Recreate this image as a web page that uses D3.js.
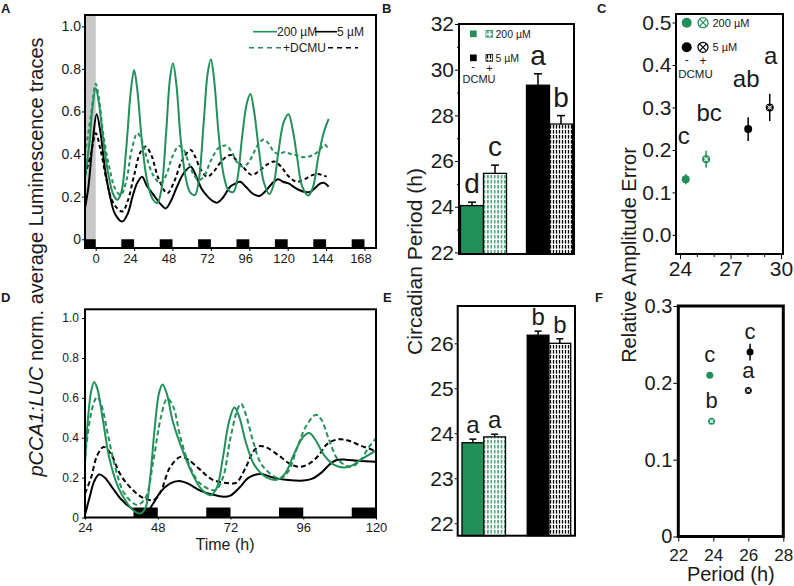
<!DOCTYPE html>
<html><head><meta charset="utf-8">
<script src="https://cdn.jsdelivr.net/npm/d3@7"></script>
<style>body{margin:0;background:#fff} text{font-family:"Liberation Sans",Arial,sans-serif;fill:#1a1a1a}</style>
</head><body><svg id="c" width="794" height="586" xmlns="http://www.w3.org/2000/svg"></svg>
<script>
// ---------- DATA ----------
// Panel A traces: [hour, normalized luminescence]
const A_200 = [[-6.7,0.29],[-4,0.45],[-2,0.62],[0,0.71],[2,0.64],[5,0.45],[8,0.3],[11,0.21],[13.5,0.185],[16,0.22],[19,0.42],[22,0.7],[24,0.795],[26,0.7],[29,0.45],[32,0.28],[35.5,0.19],[38.5,0.17],[41,0.23],[44,0.5],[46.5,0.76],[48.3,0.826],[50.5,0.72],[53,0.48],[56,0.3],[59,0.22],[62,0.208],[64.5,0.28],[67.5,0.55],[70,0.78],[72,0.845],[74,0.75],[77,0.48],[80,0.3],[83,0.23],[86,0.222],[88.5,0.28],[91.5,0.48],[94.5,0.64],[96.7,0.682],[99,0.6],[102,0.42],[105,0.27],[108.5,0.212],[111,0.25],[114,0.4],[117.5,0.55],[120.5,0.587],[123,0.52],[126,0.38],[129,0.25],[133,0.205],[136,0.25],[139,0.38],[142.5,0.5],[145.6,0.565]];
const A_200D = [[-6.7,0.4],[-3,0.58],[0,0.73],[2,0.66],[5,0.48],[9,0.32],[12,0.24],[15.6,0.208],[19,0.27],[22.5,0.42],[26,0.498],[29,0.46],[32,0.38],[36,0.3],[40.6,0.263],[44,0.3],[48,0.39],[52,0.438],[55,0.42],[58.5,0.35],[61.5,0.3],[64.6,0.278],[68,0.3],[72,0.37],[77,0.43],[81.5,0.44],[85,0.41],[88.5,0.36],[92,0.34],[95.5,0.36],[99,0.41],[102,0.45],[105,0.468],[108,0.45],[111,0.415],[114,0.4],[118.3,0.41],[122,0.4],[125.6,0.395],[130,0.385],[134,0.39],[137.7,0.404],[141,0.43],[143,0.445],[145,0.43]];
const A_5 = [[-6.7,0.146],[-4.5,0.25],[-2,0.45],[0.6,0.587],[3,0.5],[6,0.32],[9,0.2],[12,0.12],[16.6,0.083],[20,0.12],[23,0.2],[26,0.265],[29,0.294],[32,0.25],[36,0.21],[40,0.17],[43.75,0.145],[47,0.18],[51,0.25],[55,0.31],[59.4,0.341],[62.5,0.3],[66,0.24],[70,0.2],[73,0.18],[76,0.172],[80,0.2],[84,0.247],[87,0.26],[90.2,0.27],[94,0.245],[98,0.215],[102,0.203],[106,0.225],[110,0.26],[114,0.282],[117,0.27],[120.5,0.262],[124,0.245],[127.5,0.23],[131,0.222],[134,0.222],[137,0.24],[140,0.26],[142.5,0.265],[145.6,0.247]];
const A_5D = [[-6.7,0.3],[-3,0.4],[0,0.498],[3,0.42],[7,0.27],[11,0.17],[16.6,0.13],[20,0.18],[24,0.3],[28,0.41],[31.25,0.435],[35,0.39],[39,0.29],[44.75,0.216],[49,0.27],[54,0.37],[59.4,0.419],[62,0.39],[65.5,0.33],[69.75,0.294],[74,0.32],[79,0.37],[84.4,0.396],[88,0.37],[92,0.34],[97.5,0.302],[102,0.32],[107,0.35],[111.5,0.365],[116,0.34],[120,0.3],[125.6,0.27],[130,0.28],[135,0.3],[139,0.307],[142,0.3],[144.4,0.294]];
// Panel D traces
const D_200 = [[24,0.27],[25,0.5],[26,0.63],[27,0.68],[28,0.65],[30,0.48],[32,0.3],[35,0.15],[38,0.07],[40,0.035],[42.3,0.02],[44,0.05],[45.5,0.2],[47,0.45],[48.5,0.63],[49.6,0.667],[51,0.62],[53,0.48],[56.6,0.32],[59.9,0.204],[62.5,0.14],[65.5,0.112],[67.5,0.15],[69.5,0.3],[71.5,0.48],[73.3,0.551],[75,0.5],[77,0.38],[80,0.26],[84,0.2],[87.5,0.19],[90,0.22],[93,0.32],[96,0.405],[98,0.424],[100,0.39],[103,0.31],[106,0.265],[109.5,0.251],[112,0.26],[115,0.29],[119.9,0.335]];
const D_200D = [[24,0.3],[25.5,0.48],[27,0.58],[28,0.604],[29.5,0.56],[31.5,0.42],[34,0.25],[37,0.12],[41.2,0.0625],[44,0.1],[46.5,0.28],[49,0.5],[51.1,0.596],[53,0.56],[55.5,0.4],[58.5,0.26],[62,0.17],[67,0.1375],[69.5,0.2],[72,0.4],[74.5,0.55],[75.5,0.57],[77,0.52],[79.5,0.38],[82.5,0.26],[88.1,0.196],[91,0.23],[94,0.35],[97,0.46],[100.2,0.515],[102,0.49],[104.5,0.39],[107.5,0.29],[111.7,0.254],[115,0.29],[117.5,0.35],[119.9,0.395]];
const D_5 = [[24,0.0125],[25.5,0.1],[27,0.18],[28.6,0.216],[30.5,0.2],[33,0.15],[36,0.09],[39,0.05],[42,0.03],[44.5,0.03],[46.5,0.07],[49,0.13],[52,0.17],[55,0.183],[58,0.17],[62,0.135],[66,0.115],[69.7,0.104],[72,0.11],[75,0.15],[78,0.2],[82,0.218],[86,0.2],[91,0.188],[96,0.185],[99,0.195],[102,0.225],[105,0.27],[107,0.288],[110,0.29],[114,0.284],[119.9,0.28]];
const D_5D = [[24,0.12],[26,0.2],[28,0.31],[30.2,0.354],[32.5,0.32],[35.5,0.22],[39,0.15],[43,0.1],[46.7,0.0875],[49,0.13],[52,0.25],[55.5,0.304],[58,0.29],[62,0.24],[66,0.19],[71.9,0.171],[74,0.175],[77,0.25],[79.5,0.33],[81.5,0.358],[84,0.35],[88,0.31],[91.5,0.27],[94.7,0.254],[98,0.27],[101,0.31],[104,0.37],[107.8,0.3925],[111,0.385],[115,0.36],[119.9,0.334]];
const darkStartsA = [-8,16,40,64,88,112,136,160];
const darkStartsD = [40,64,88,112];
const darkLen = 8;
const ticksA_x = [0,24,48,72,96,120,144,168];
const ticksD_x = [24,48,72,96,120];
const ticksLum = [0,0.2,0.4,0.6,0.8,1.0];
// Panels B, E (period) and C, F (amplitude error) — order: 200 µM -, 200 µM +, 5 µM -, 5 µM +
const groups = ["200 µM","5 µM"];
const treat = ["-","+"];
const periodB = [24.05,25.46,29.32,27.62];
const errB = [0.15,0.36,0.5,0.37];
const lettersB = ["d","c","a","b"];
const periodE = [23.79,23.92,26.18,26.0];
const errE = [0.08,0.06,0.09,0.1];
const lettersE = ["a","a","b","b"];
const periodC = [24.34,25.55,28.05,29.33];
const ampC = [0.131,0.178,0.249,0.30];
const errC = [0.012,0.02,0.028,0.032];
const lettersC = ["c","bc","ab","a"];
const periodF = [23.8,23.9,26.1,26.0];
const ampF = [0.21,0.15,0.24,0.19];
const errF = [0.003,0.003,0.011,0.004];
const lettersF = ["c","b","c","a"];

// ---------- DRAW ----------
const GREEN = "#22905a";
const svg = d3.select("#c");
const defs = svg.append("defs");
function hatch(id,color,w){
  const p = defs.append("pattern").attr("id",id).attr("patternUnits","userSpaceOnUse").attr("width",w).attr("height",5);
  p.append("rect").attr("width",w).attr("height",5).attr("fill","#fff");
  p.append("line").attr("x1",w/2).attr("x2",w/2).attr("y1",0).attr("y2",3.6).attr("stroke",color).attr("stroke-width",1.3);
}
hatch("hg",GREEN,3.4); hatch("hk","#000",3.0);
const isG = i => i<2;
const isPlus = i => i%2===1;
const rows = (vals,errs,lets)=>groups.flatMap((g,i)=>treat.map((t,j)=>({g,t,i:i*2+j,v:vals[i*2+j],e:errs[i*2+j],l:lets[i*2+j]})));

function frame(x0,y0,x1,y1,w){
  svg.append("rect").attr("x",x0).attr("y",y0).attr("width",x1-x0).attr("height",y1-y0)
    .attr("fill","none").attr("stroke","#000").attr("stroke-width",w||2);
}
function styleAxis(g,fs){
  g.select(".domain").remove();
  g.selectAll("text").attr("font-size",fs).attr("fill","#1a1a1a").attr("font-family","'Liberation Sans',Arial,sans-serif");
  g.selectAll("line").attr("stroke","#000");
}
function label(x,y,t,fs,opts){
  const e = svg.append("text").attr("x",x).attr("y",y).attr("font-size",fs).text(t);
  if(opts&&opts.anchor) e.attr("text-anchor",opts.anchor);
  if(opts&&opts.bold) e.attr("font-weight","bold");
  return e;
}
const lumFmt = d=> d===0?"0":d.toFixed(1);

// ----- Panel A -----
const xA = d3.scaleLinear().domain([-6.7,175.2]).range([85,376]);
const yA = d3.scaleLinear().domain([-0.041,1.053]).range([248,15]);
defs.append("clipPath").attr("id","clipA").append("rect").attr("x",85).attr("y",15).attr("width",291).attr("height",233);
const gA = svg.append("g").attr("clip-path","url(#clipA)");
gA.append("rect").attr("x",xA(-6.7)).attr("y",15).attr("width",xA(0)-xA(-6.7)).attr("height",233).attr("fill","#c8c8c8");
gA.selectAll("rect.dk").data(darkStartsA).join("rect").attr("class","dk")
  .attr("x",d=>xA(d)).attr("width",d=>xA(d+darkLen)-xA(d)).attr("y",yA(0)).attr("height",yA(-0.041)-yA(0)).attr("fill","#000");
const lineA = d3.line().x(d=>xA(d[0])).y(d=>yA(d[1])).curve(d3.curveCatmullRom.alpha(0.5));
const tracesA = [[A_5D,"#000",true],[A_5,"#000",false],[A_200D,GREEN,true],[A_200,GREEN,false]];
tracesA.forEach(([d,c,dash])=>gA.append("path").attr("d",lineA(d)).attr("fill","none").attr("stroke",c)
  .attr("stroke-width",2).attr("stroke-dasharray",dash?"4,3":null));
styleAxis(svg.append("g").attr("transform","translate(85,0)").call(d3.axisLeft(yA).tickValues(ticksLum).tickFormat(lumFmt).tickSize(3).tickPadding(1)),14);
const axA = svg.append("g").attr("transform","translate(0,248)").call(d3.axisBottom(xA).tickValues(ticksA_x).tickSize(3).tickPadding(3));
styleAxis(axA,13);
axA.selectAll("text").attr("dx",d=>d===0?0:-4);
frame(85,15,376,248,2);
// legend A
function legLine(x1,x2,y,c,dash){svg.append("line").attr("x1",x1).attr("x2",x2).attr("y1",y).attr("y2",y).attr("stroke",c).attr("stroke-width",1.6).attr("stroke-dasharray",dash?"5,4":null);}
legLine(253,277,31.7,GREEN,false); label(277,35.7,"200 µM",12);
legLine(315,337,31.7,"#000",false); label(337,35.7,"5 µM",12);
legLine(249,282,47.7,GREEN,true); label(283,51.7,"+DCMU",12);
legLine(328,358,47.7,"#000",true);

// ----- Panel D -----
const xD = d3.scaleLinear().domain([24,120]).range([85,376]);
const yD = d3.scaleLinear().domain([0,1.044]).range([517.5,309.3]);
defs.append("clipPath").attr("id","clipD").append("rect").attr("x",85).attr("y",309.3).attr("width",291).attr("height",208.2);
const gD = svg.append("g").attr("clip-path","url(#clipD)");
gD.selectAll("rect.dk").data(darkStartsD).join("rect").attr("class","dk")
  .attr("x",d=>xD(d)).attr("width",d=>xD(d+darkLen)-xD(d)).attr("y",yD(0.05)).attr("height",yD(0)-yD(0.05)).attr("fill","#000");
const lineD = d3.line().x(d=>xD(d[0])).y(d=>yD(d[1])).curve(d3.curveCatmullRom.alpha(0.5));
const tracesD = [[D_5D,"#000",true],[D_5,"#000",false],[D_200D,GREEN,true],[D_200,GREEN,false]];
tracesD.forEach(([d,c,dash])=>gD.append("path").attr("d",lineD(d)).attr("fill","none").attr("stroke",c)
  .attr("stroke-width",2).attr("stroke-dasharray",dash?"5,3":null));
styleAxis(svg.append("g").attr("transform","translate(85,0)").call(d3.axisLeft(yD).tickValues(ticksLum).tickFormat(lumFmt).tickSize(3).tickPadding(3)),12);
styleAxis(svg.append("g").attr("transform","translate(0,517.5)").call(d3.axisBottom(xD).tickValues(ticksD_x).tickSize(2).tickPadding(3)),13);
frame(85,309.3,376,517.5,2);
label(225,550,"Time (h)",16,{anchor:"middle"});

// shared y label A/D
const ylA = svg.append("text").attr("transform","translate(43,257) rotate(-90)").attr("text-anchor","middle").attr("font-size",20);
ylA.append("tspan").attr("font-style","italic").text("pCCA1:LUC");
ylA.append("tspan").text(" norm. average Luminescence traces");

// ----- Bar panels -----
function barPanel(o){
  const x = d3.scaleBand().domain(groups).range([o.x0,o.x1]).paddingInner(o.pi).paddingOuter(o.po);
  const xi = d3.scaleBand().domain(treat).range([0,x.bandwidth()]);
  const y = d3.scaleLinear().domain(o.yd).range([o.y1,o.y0]);
  const data = rows(o.vals,o.errs,o.lets);
  const g = svg.append("g");
  const cx = d=>x(d.g)+xi(d.t)+xi.bandwidth()/2;
  g.selectAll("rect.bar").data(data).join("rect").attr("class","bar")
    .attr("x",d=>x(d.g)+xi(d.t)).attr("width",xi.bandwidth()).attr("y",d=>y(d.v)).attr("height",d=>o.y1-y(d.v))
    .attr("fill",d=>isPlus(d.i)?(isG(d.i)?"url(#hg)":"url(#hk)"):(isG(d.i)?GREEN:"#000"))
    .attr("stroke","#000").attr("stroke-width",1.3);
  g.selectAll("line.eb").data(data).join("line").attr("class","eb")
    .attr("x1",cx).attr("x2",cx).attr("y1",d=>y(d.v)).attr("y2",d=>y(d.v+d.e)).attr("stroke","#000").attr("stroke-width",1.5);
  g.selectAll("line.cap").data(data).join("line").attr("class","cap")
    .attr("x1",d=>cx(d)-o.cap).attr("x2",d=>cx(d)+o.cap).attr("y1",d=>y(d.v+d.e)).attr("y2",d=>y(d.v+d.e)).attr("stroke","#000").attr("stroke-width",1.5);
  g.selectAll("text.let").data(data).join("text").attr("class","let")
    .attr("x",cx).attr("y",d=>y(d.v+d.e)-o.gap).attr("text-anchor","middle").attr("font-size",o.lfs).text(d=>d.l);
  const ax = d3.axisLeft(y).tickValues(o.ticks).tickSize(o.ts).tickPadding(o.tp).tickFormat(d3.format("d"));
  styleAxis(svg.append("g").attr("transform",`translate(${o.x0},0)`).call(ax),o.fs);
  if(o.minor){
    styleAxis(svg.append("g").attr("transform",`translate(${o.x0},0)`).call(d3.axisLeft(y).tickValues(o.minor).tickSize(2).tickFormat("")),o.fs);
  }
  frame(o.x0,o.y0,o.x1,o.y1,2);
}
barPanel({x0:459,x1:574,y0:24,y1:254,yd:[21.93,32],pi:0.303,po:0.0227,vals:periodB,errs:errB,lets:lettersB,
  ticks:[22,24,26,28,30,32],minor:[23,25,27,29,31],ts:4,tp:1,fs:21,lfs:28,gap:9,cap:4});
barPanel({x0:457.7,x1:575,y0:306,y1:535.7,yd:[21.724,26.829],pi:0.333,po:0.066,vals:periodE,errs:errE,lets:lettersE,
  ticks:[22,23,24,25,26],ts:3,tp:1,fs:21,lfs:24,gap:6,cap:3.5});
// legend B
svg.append("rect").attr("x",470).attr("y",30.5).attr("width",6.7).attr("height",6.7).attr("fill",GREEN);
svg.append("rect").attr("x",486).attr("y",30.5).attr("width",6.7).attr("height",6.7).attr("fill","url(#hg)").attr("stroke",GREEN).attr("stroke-width",0.8);
label(495.5,37.5,"200 µM",10.5);
svg.append("rect").attr("x",470).attr("y",54.5).attr("width",6.7).attr("height",6.7).attr("fill","#000");
svg.append("rect").attr("x",486).attr("y",54.5).attr("width",6.7).attr("height",6.7).attr("fill","url(#hk)").attr("stroke","#000").attr("stroke-width",0.8);
label(495.5,61.5,"5 µM",10.5);
label(473,70,"-",11,{anchor:"middle"}); label(489.5,71.5,"+",11,{anchor:"middle"});
label(479,82.5,"DCMU",11,{anchor:"middle"});
svg.append("text").attr("transform","translate(422,261.5) rotate(-90)").attr("text-anchor","middle").attr("font-size",21).text("Circadian Period (h)");

// ----- Scatter panels -----
function marker(g,cx,cy,i,r){
  const c = isG(i)?GREEN:"#000";
  g.append("circle").attr("cx",cx).attr("cy",cy).attr("r",r).attr("fill",c);
  if(!isPlus(i)) return;
  const k=r*0.55;
  g.append("path").attr("d",`M${cx-k},${cy-k}L${cx+k},${cy+k}M${cx-k},${cy+k}L${cx+k},${cy-k}`).attr("stroke","#fff").attr("stroke-width",1);
  g.append("circle").attr("cx",cx).attr("cy",cy).attr("r",r*0.35).attr("fill","none").attr("stroke","#fff").attr("stroke-width",0.7);
}
function legMarker(cx,cy,i,r){
  const c = isG(i)?GREEN:"#000";
  if(!isPlus(i)){ svg.append("circle").attr("cx",cx).attr("cy",cy).attr("r",r).attr("fill",c); return; }
  svg.append("circle").attr("cx",cx).attr("cy",cy).attr("r",r).attr("fill","#fff").attr("stroke",c).attr("stroke-width",1.3);
  const k=r*0.7;
  svg.append("path").attr("d",`M${cx-k},${cy-k}L${cx+k},${cy+k}M${cx-k},${cy+k}L${cx+k},${cy-k}`).attr("stroke",c).attr("stroke-width",1.2);
}
function scatterPanel(o){
  const x = d3.scaleLinear().domain(o.xd).range([o.x0,o.x1]);
  const y = d3.scaleLinear().domain(o.yd).range([o.y1,o.y0]);
  const g = svg.append("g");
  o.px.forEach((p,i)=>{
    g.append("line").attr("x1",x(p)).attr("x2",x(p)).attr("y1",y(o.py[i]-o.pe[i])).attr("y2",y(o.py[i]+o.pe[i])).attr("stroke",isG(i)?GREEN:"#000").attr("stroke-width",1.5);
    marker(g,x(p),y(o.py[i]),i,o.r);
    g.append("text").attr("x",x(p)+(o.ldx?o.ldx[i]:0)).attr("y",(o.labelFromErr?y(o.py[i]+o.pe[i]):y(o.py[i]))-o.gap)
      .attr("text-anchor","middle").attr("font-size",o.lfs).text(o.lets[i]);
  });
  styleAxis(svg.append("g").attr("transform",`translate(${o.x0},0)`).call(d3.axisLeft(y).tickValues(o.yt).tickFormat(o.yf).tickSize(o.yts).tickPadding(o.ytp)),o.fs);
  styleAxis(svg.append("g").attr("transform",`translate(0,${o.y1})`).call(d3.axisBottom(x).tickValues(o.xt).tickFormat(d3.format("d")).tickSize(o.xts).tickPadding(o.xtp)),o.xfs);
  if(o.xminor) styleAxis(svg.append("g").attr("transform",`translate(0,${o.y1})`).call(d3.axisBottom(x).tickValues(o.xminor).tickFormat("").tickSize(3)),o.xfs);
  frame(o.x0,o.y0,o.x1,o.y1,o.fw);
}
scatterPanel({x0:676,x1:783,y0:14,y1:254,xd:[23.762,30.119],yd:[-0.045,0.52],px:periodC,py:ampC,pe:errC,lets:lettersC,
  ldx:[-2,3,-2,1],labelFromErr:true,gap:30,lfs:24,r:4,
  yt:[0,0.1,0.2,0.3,0.4,0.5],yf:d3.format(".1f"),yts:3.5,ytp:1,fs:21,
  xt:[24,27,30],xminor:[25,26,28,29],xts:5,xtp:2,xfs:21,fw:2});
scatterPanel({x0:678.3,x1:783.3,y0:306,y1:536.5,xd:[22,28],yd:[0,0.3],px:periodF,py:ampF,pe:errF,lets:lettersF,
  labelFromErr:false,gap:13,lfs:22,r:3.5,
  yt:[0,0.1,0.2,0.3],yf:d=>d===0?"0":d.toFixed(1),yts:5,ytp:1,fs:20,
  xt:[22,24,26,28],xts:5,xtp:7,xfs:17,fw:3});
// legend C
legMarker(686.7,22.7,0,5); legMarker(703,22.7,1,5); label(712.5,26.8,"200 µM",11);
legMarker(686.7,47.3,2,5); legMarker(703,47.3,3,5); label(712.5,51.4,"5 µM",11);
label(686.7,63.5,"-",12,{anchor:"middle"}); label(703,64.5,"+",12,{anchor:"middle"});
label(695.5,78,"DCMU",11.5,{anchor:"middle"});
svg.append("text").attr("transform","translate(636,255) rotate(-90)").attr("text-anchor","middle").attr("font-size",20).text("Relative Amplitude Error");
label(730.8,581,"Period (h)",20,{anchor:"middle"});

// panel letters
[["A",1,12.5],["B",382,12.5],["C",597,12.5],["D",1,302],["E",383,302],["F",595,302]].forEach(([t,x,y])=>label(x,y,t,13,{bold:true}));
</script></body></html>
